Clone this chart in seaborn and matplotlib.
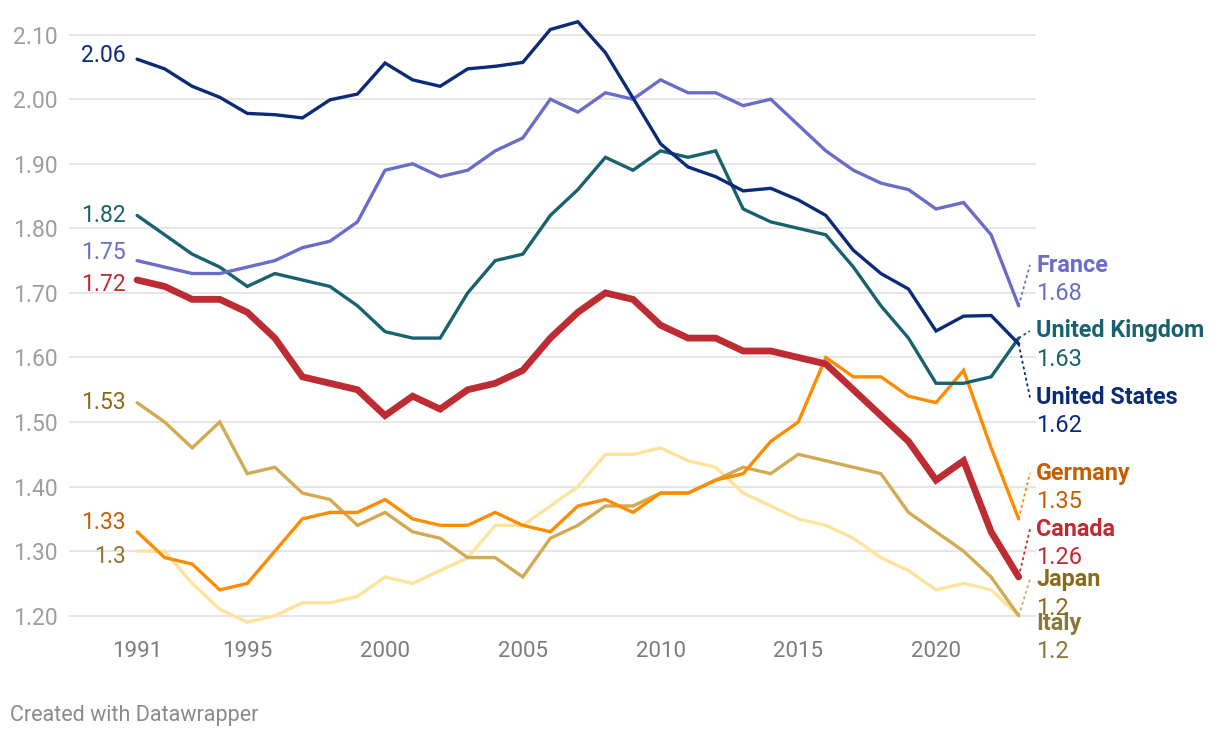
import pandas as pd
import matplotlib.pyplot as plt
import seaborn as sns

# Total fertility rate, 1991-2023
years = list(range(1991, 2024))
us = [2.062, 2.047, 2.020, 2.003, 1.978, 1.976, 1.971, 1.999, 2.008, 2.056, 2.030,
      2.020, 2.047, 2.051, 2.057, 2.108, 2.120, 2.072, 2.002, 1.931, 1.895, 1.880,
      1.858, 1.862, 1.844, 1.820, 1.766, 1.730, 1.706, 1.641, 1.664, 1.665, 1.621]
france = [1.75, 1.74, 1.73, 1.73, 1.74, 1.75, 1.77, 1.78, 1.81, 1.89, 1.90, 1.88,
          1.89, 1.92, 1.94, 2.00, 1.98, 2.01, 2.00, 2.03, 2.01, 2.01, 1.99, 2.00,
          1.96, 1.92, 1.89, 1.87, 1.86, 1.83, 1.84, 1.79, 1.68]
uk = [1.82, 1.79, 1.76, 1.74, 1.71, 1.73, 1.72, 1.71, 1.68, 1.64, 1.63, 1.63,
      1.70, 1.75, 1.76, 1.82, 1.86, 1.91, 1.89, 1.92, 1.91, 1.92, 1.83, 1.81,
      1.80, 1.79, 1.74, 1.68, 1.63, 1.56, 1.56, 1.57, 1.63]
canada = [1.72, 1.71, 1.69, 1.69, 1.67, 1.63, 1.57, 1.56, 1.55, 1.51, 1.54, 1.52,
          1.55, 1.56, 1.58, 1.63, 1.67, 1.70, 1.69, 1.65, 1.63, 1.63, 1.61, 1.61,
          1.60, 1.59, 1.55, 1.51, 1.47, 1.41, 1.44, 1.33, 1.26]
germany = [1.33, 1.29, 1.28, 1.24, 1.25, 1.30, 1.35, 1.36, 1.36, 1.38, 1.35, 1.34,
           1.34, 1.36, 1.34, 1.33, 1.37, 1.38, 1.36, 1.39, 1.39, 1.41, 1.42, 1.47,
           1.50, 1.60, 1.57, 1.57, 1.54, 1.53, 1.58, 1.46, 1.35]
japan = [1.53, 1.50, 1.46, 1.50, 1.42, 1.43, 1.39, 1.38, 1.34, 1.36, 1.33, 1.32,
         1.29, 1.29, 1.26, 1.32, 1.34, 1.37, 1.37, 1.39, 1.39, 1.41, 1.43, 1.42,
         1.45, 1.44, 1.43, 1.42, 1.36, 1.33, 1.30, 1.26, 1.20]
italy = [1.30, 1.30, 1.25, 1.21, 1.19, 1.20, 1.22, 1.22, 1.23, 1.26, 1.25, 1.27,
         1.29, 1.34, 1.34, 1.37, 1.40, 1.45, 1.45, 1.46, 1.44, 1.43, 1.39, 1.37,
         1.35, 1.34, 1.32, 1.29, 1.27, 1.24, 1.25, 1.24, 1.20]

countries = ["Italy", "Japan", "Germany", "United Kingdom", "France", "United States", "Canada"]
series = [italy, japan, germany, uk, france, us, canada]
start_labels = ["1.3", "1.53", "1.33", "1.82", "1.75", "2.06", "1.72"]
end_labels = ["1.2", "1.2", "1.35", "1.63", "1.68", "1.62", "1.26"]

line_colors = ["#fee39b", "#d2aa52", "#ff8c00", "#18616f", "#6a6cca", "#0b2a78", "#bd2c32"]
text_colors = ["#8a7836", "#8b6b18", "#c45e06", "#18616f", "#6a6cca", "#0b2a78", "#bd2c32"]
widths = [2.4, 2.4, 2.4, 2.4, 2.4, 2.4, 4.9]
# label nudges (points, + = down) and right-hand label anchors (data y)
start_nudge = [4, 0, -6.5, 0, -6, -2.5, 3.5]
end_label_y = [1.188, 1.256, 1.421, 1.641, 1.743, 1.538, 1.334]

plt.rcParams['font.family'] = ['Roboto', 'DejaVu Sans']

fig = plt.figure(figsize=(12.2, 7.38), dpi=100)
ax = fig.add_axes([0.0566, 0.1482, 0.7926, 0.8311])

for name, vals, col, lw in zip(countries, series, line_colors, widths):
    df = pd.DataFrame({"year": years, "tfr": vals})
    sns.lineplot(data=df, x="year", y="tfr", color=col, linewidth=lw, ax=ax,
                 solid_joinstyle="miter", solid_capstyle="round", zorder=3)

ax.set_xlim(1988.53, 2023.63)
ax.set_ylim(1.18, 2.13)
ax.set_yticks([1.2, 1.3, 1.4, 1.5, 1.6, 1.7, 1.8, 1.9, 2.0, 2.1])
ax.set_yticklabels([f"{v:.2f}" for v in ax.get_yticks()])
ax.set_xticks([1991, 1995, 2000, 2005, 2010, 2015, 2020])
ax.grid(axis="y", color="#e2e2e2", linewidth=1.2, zorder=0)
ax.grid(axis="x", visible=False)
ax.set_axisbelow(True)
for s in ax.spines.values():
    s.set_visible(False)
ax.tick_params(axis="y", length=0, pad=8.5, labelsize=16.5, labelcolor="#9e9e9e")
ax.tick_params(axis="x", length=0, pad=9, labelsize=16, labelcolor="#7c7c7c")
ax.set_xlabel("")
ax.set_ylabel("")

# start values on the left
for vals, lab, col, nud in zip(series, start_labels, text_colors, start_nudge):
    ax.annotate(lab, xy=(years[0], vals[0]), xytext=(-8, -nud), textcoords="offset points",
                ha="right", va="center", fontsize=16.5, color=col)

# end labels on the right with dotted leaders
for name, vals, lab, lcol, tcol, ly in zip(countries, series, end_labels,
                                           line_colors, text_colors, end_label_y):
    if name != "Italy":
        ax.plot([years[-1], years[-1] + 0.41], [vals[-1], ly], linestyle=(0, (1.6, 1.6)),
                color=lcol, linewidth=1.3, clip_on=False, zorder=2)
    ax.annotate(name, xy=(years[-1] + 0.63, ly), ha="left", va="center",
                fontsize=16.8, fontweight="bold", color=tcol, annotation_clip=False)
    ax.annotate(lab, xy=(years[-1] + 0.63, ly), xytext=(0, -20.5), textcoords="offset points",
                ha="left", va="center", fontsize=17, color=tcol, annotation_clip=False)

fig.text(10 / 1220, 1 - 715 / 738, "Created with Datawrapper", ha="left", va="center",
         fontsize=15.5, color="#8a8a8a")

fig.savefig("out.png", dpi=100)
